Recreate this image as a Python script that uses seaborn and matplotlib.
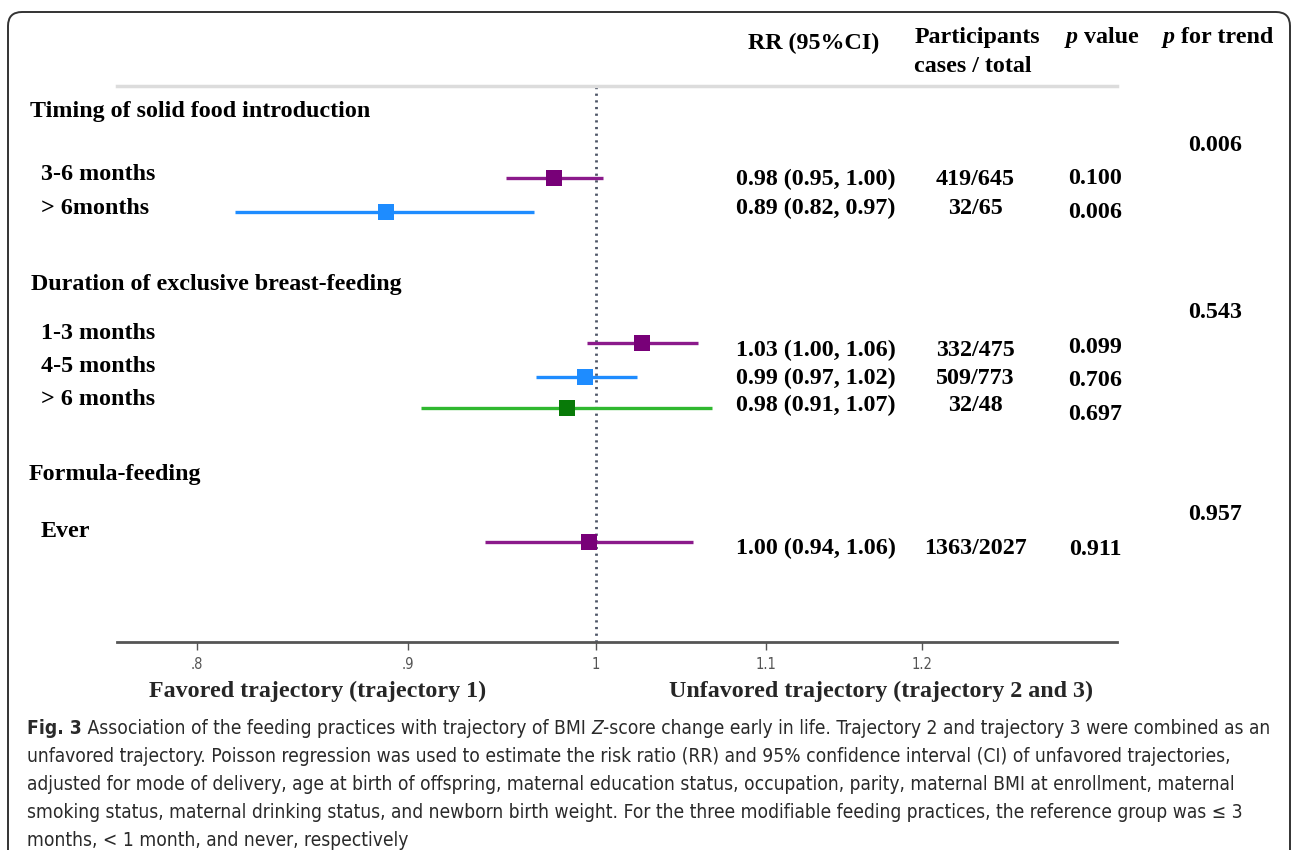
import matplotlib
matplotlib.use("Agg")
import matplotlib.pyplot as plt
import matplotlib.ticker as mticker
import matplotlib.patches as mpatches
import matplotlib.transforms as mtrans
from matplotlib import font_manager as fm
import seaborn as sns
import pandas as pd

# ---------------- data ----------------
group_titles = ["Timing of solid food introduction",
                "Duration of exclusive breast-feeding",
                "Formula-feeding"]
row_labels = ["3-6 months", "> 6months", "1-3 months", "4-5 months", "> 6 months", "Ever"]
rr = [0.977, 0.889, 1.026, 0.994, 0.984, 0.996]
ci_lo = [0.951, 0.817, 0.995, 0.967, 0.907, 0.940]
ci_hi = [1.004, 0.966, 1.059, 1.023, 1.067, 1.056]
rr_text = ["0.98 (0.95, 1.00)", "0.89 (0.82, 0.97)", "1.03 (1.00, 1.06)",
           "0.99 (0.97, 1.02)", "0.98 (0.91, 1.07)", "1.00 (0.94, 1.06)"]
cases_text = ["419/645", "32/65", "332/475", "509/773", "32/48", "1363/2027"]
p_text = ["0.100", "0.006", "0.099", "0.706", "0.697", "0.911"]
trend_text = ["0.006", "0.543", "0.957"]
tick_values = [0.8, 0.9, 1.0, 1.1, 1.2]
tick_labels = [".8", ".9", "1", "1.1", "1.2"]
color_key = ["purple", "blue", "purple", "blue", "green", "purple"]

caption_lines = [
    [("Fig. 3", "bold", "normal"),
     (" Association of the feeding practices with trajectory of BMI ", "normal", "normal"),
     ("Z", "normal", "italic"),
     ("-score change early in life. Trajectory 2 and trajectory 3 were combined as an", "normal", "normal")],
    [("unfavored trajectory. Poisson regression was used to estimate the risk ratio (RR) and 95% confidence interval (CI) of unfavored trajectories,", "normal", "normal")],
    [("adjusted for mode of delivery, age at birth of offspring, maternal education status, occupation, parity, maternal BMI at enrollment, maternal", "normal", "normal")],
    [("smoking status, maternal drinking status, and newborn birth weight. For the three modifiable feeding practices, the reference group was \u2264 3", "normal", "normal")],
    [("months, < 1 month, and never, respectively", "normal", "normal")],
]

# ---------------- style / layout ----------------
line_pal = {"purple": "#8B1A8B", "blue": "#1E8CFF", "green": "#30B830"}
marker_pal = {"purple": "#780078", "blue": "#1E8CFF", "green": "#087A08"}

W, H = 1292, 850
DY = 1.5  # vertical text offset (px)
row_y = [178, 212, 343, 377, 408, 542]
label_y = [173, 207, 332, 365, 398, 530]
title_y = [110, 283, 473]
title_x = [30, 31, 29]
rr_y = [178, 207, 349, 377, 404, 547]
p_y = [177, 211, 346, 379, 413, 548]
trend_y = [144, 311, 513]
caption_y = [729, 757, 785, 813, 840]

sns.set_style("white")
SERIF = ["Liberation Serif", "DejaVu Serif"]
plt.rcParams["font.family"] = SERIF

# condensed sans for caption / ticks if available
names = {f.name for f in fm.fontManager.ttflist}
cond = [f for f in fm.fontManager.ttflist
        if f.name == "DejaVu Sans" and str(f.stretch) in ("condensed", "semi-condensed")
        and f.weight in (400, "normal")]
if "Liberation Sans Narrow" in names:
    CAP = dict(family=["Liberation Sans Narrow", "DejaVu Sans"])
elif cond:
    CAP = dict(family=["DejaVu Sans"], stretch="condensed")
else:
    CAP = dict(family=["Liberation Sans", "DejaVu Sans"])

fig = plt.figure(figsize=(W / 100, H / 100), dpi=100)
renderer = fig.canvas.get_renderer()


def fx(x):
    return x / W


def fy(y):
    return 1 - y / H


def fit_size(text, target_px, **kw):
    t = fig.text(0, 0, text, fontsize=10, **kw)
    w = t.get_window_extent(renderer).width
    t.remove()
    return 10 * target_px / w


def rich(x, y, pieces, ha="left", **kw):
    """pieces: list of (text, weight, style); x is left edge or centre."""
    arts = []
    total = 0
    for txt, wgt, sty in pieces:
        t = fig.text(0, fy(y), txt, weight=wgt, style=sty, ha="left", **kw)
        w = t.get_window_extent(renderer).width
        arts.append((t, w))
        total += w
    cur = x - total / 2 if ha == "center" else x
    for t, w in arts:
        t.set_x(fx(cur))
        cur += w


main_fs = fit_size(group_titles[0], 339, weight="bold", family=SERIF)
bottom_fs = fit_size("Unfavored trajectory (trajectory 2 and 3)", 424, weight="bold", family=SERIF)
cap_fs = fit_size(caption_lines[1][0][0], 1204, **CAP)

# ---------------- forest axes ----------------
x_left, x_right, y_top, y_bot = 117, 1117, 86, 642
ax = fig.add_axes([fx(x_left), fy(y_bot), (x_right - x_left) / W, (y_bot - y_top) / H])
ax.set_xscale("log")
ax.set_xlim(0.765, 1.3383)
ax.set_ylim(y_bot, y_top)

df = pd.DataFrame({"rr": rr, "lo": ci_lo, "hi": ci_hi, "y": row_y, "key": color_key})

ax.axvline(1.0, color="#4d5566", lw=2.0, ls=(0, (0.8, 1.6)), zorder=1)
ax.hlines(df["y"], df["lo"], df["hi"], colors=[line_pal[k] for k in df["key"]],
          lw=2.4, zorder=2)
sns.scatterplot(data=df, x="rr", y="y", hue="key", palette=marker_pal, marker="s",
                s=135, linewidth=0, legend=False, ax=ax, zorder=3)

ax.set_xlabel("")
ax.set_ylabel("")
ax.set_yticks([])
ax.xaxis.set_major_locator(mticker.FixedLocator(tick_values))
ax.xaxis.set_major_formatter(mticker.FixedFormatter(tick_labels))
ax.xaxis.set_minor_locator(mticker.NullLocator())
ax.tick_params(axis="x", direction="out", length=6, width=1.0, color="#555555",
               labelcolor="#555555", labelsize=10.5, pad=5, bottom=True)
for lab in ax.get_xticklabels():
    lab.set_family(CAP["family"])
    if "stretch" in CAP:
        lab.set_stretch(CAP["stretch"])
for side in ["left", "right"]:
    ax.spines[side].set_visible(False)
ax.spines["bottom"].set_color("#555555")
ax.spines["bottom"].set_linewidth(2.0)
ax.spines["top"].set_color("#dcdcdc")
ax.spines["top"].set_linewidth(2.5)
ax.patch.set_alpha(0)

# ---------------- texts ----------------
bold = dict(weight="bold", family=SERIF, fontsize=main_fs, color="black", va="center")

for t, x, y in zip(group_titles, title_x, title_y):
    fig.text(fx(x), fy(y + DY), t, ha="left", **bold)
for t, y in zip(row_labels, label_y):
    fig.text(fx(41), fy(y + DY), t, ha="left", **bold)
for t, y in zip(rr_text, rr_y):
    fig.text(fx(816), fy(y + DY), t, ha="center", **bold)
for t, y in zip(cases_text, rr_y):
    fig.text(fx(975), fy(y + DY), t, ha="center", **bold)
for t, y in zip(p_text, p_y):
    fig.text(fx(1095), fy(y + DY), t, ha="center", **bold)
for t, y in zip(trend_text, trend_y):
    fig.text(fx(1215), fy(y + DY), t, ha="center", **bold)

# headers
fig.text(fx(814), fy(42 + DY), "RR (95%CI)", ha="center", **bold)
fig.text(fx(977), fy(36 + DY), "Participants", ha="center", **bold)
fig.text(fx(973), fy(65 + DY), "cases / total", ha="center", **bold)
hdr = dict(family=SERIF, fontsize=main_fs, color="black", va="center")
rich(1102, 36 + DY, [("p", "bold", "italic"), (" value", "bold", "normal")], ha="center", **hdr)
rich(1218, 36 + DY, [("p", "bold", "italic"), (" for trend", "bold", "normal")], ha="center", **hdr)

# bottom labels
fig.text(fx(318), fy(690 + DY), "Favored trajectory (trajectory 1)", ha="center",
         weight="bold", family=SERIF, fontsize=bottom_fs, va="center")
fig.text(fx(881), fy(690 + DY), "Unfavored trajectory (trajectory 2 and 3)", ha="center",
         weight="bold", family=SERIF, fontsize=bottom_fs, va="center")

# caption
for pieces, y in zip(caption_lines, caption_y):
    rich(27, y, pieces, ha="left", va="center", fontsize=cap_fs, color="#2a2a2a", **CAP)

# rounded frame
frame = mpatches.FancyBboxPatch((8, -60), 1282, H - 12 + 60,
                                boxstyle="round,pad=0,rounding_size=14",
                                transform=mtrans.IdentityTransform(),
                                fill=False, edgecolor="#333333", lw=1.4)
fig.add_artist(frame)

fig.savefig("out.png", dpi=100)
